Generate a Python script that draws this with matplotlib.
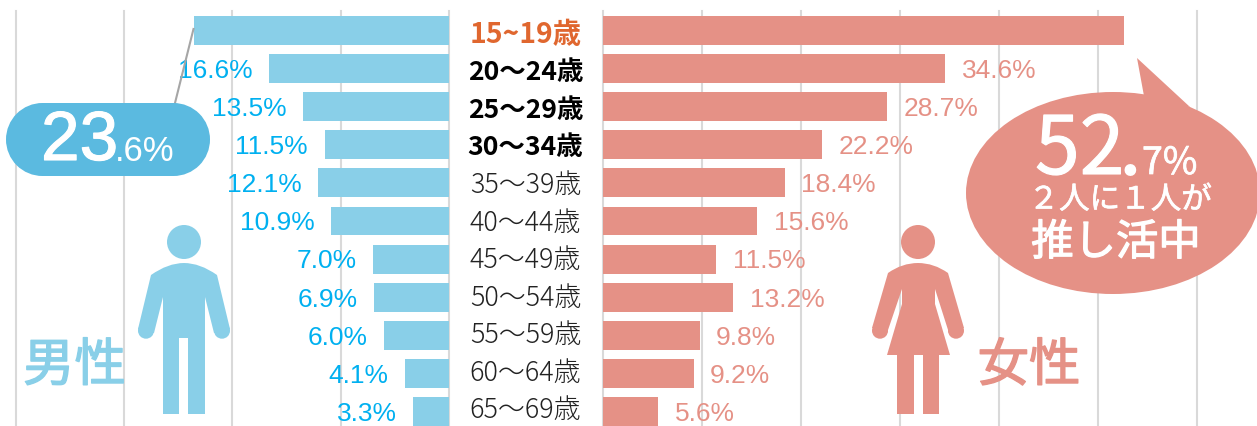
import matplotlib
matplotlib.use("Agg")
import matplotlib.pyplot as plt
import matplotlib.patheffects as pe
from matplotlib.patches import Circle, Ellipse, PathPatch, Polygon, Rectangle
from matplotlib.path import Path

plt.rcParams['font.family'] = ['Noto Sans CJK JP', 'DejaVu Sans']

ages = ["15~19歳", "20～24歳", "25～29歳", "30～34歳", "35～39歳", "40～44歳",
        "45～49歳", "50～54歳", "55～59歳", "60～64歳", "65～69歳"]
male = [23.6, 16.6, 13.5, 11.5, 12.1, 10.9, 7.0, 6.9, 6.0, 4.1, 3.3]
female = [52.7, 34.6, 28.7, 22.2, 18.4, 15.6, 11.5, 13.2, 9.8, 9.2, 5.6]
age_colors = ["#e0672f", "black", "black", "black"] + ["#222222"] * 7
age_weights = ["bold", "bold", "bold", "bold"] + ["light"] * 7
age_sizes = [20.4, 19.1, 19.1, 19.1] + [19.4] * 7

BLUE = "#89cfe8"
PINK = "#e59186"
W, H = 1257, 427

fig = plt.figure(figsize=(W / 100, H / 100), dpi=100)


def make_axes(x0, x1, xlim):
    ax = fig.add_axes([x0 / W, -1 / H, (x1 - x0) / W, 416 / H])
    ax.set_xlim(*xlim)
    ax.set_ylim(10.407, -0.512)
    ax.set_yticks([])
    ax.tick_params(length=0, labelbottom=False)
    for s in ax.spines.values():
        s.set_visible(False)
    ax.patch.set_alpha(0)
    ax.grid(axis='x', color='#d9d9d9', lw=1.5, clip_on=False)
    ax.set_axisbelow(True)
    return ax


def thicken(color, width):
    # no medium weight to be had, so a thin stroke fattens the regular glyphs
    return [pe.withStroke(linewidth=width, foreground=color)]


ax_l = make_axes(16, 449, (40, 0))
ax_l.set_xticks([40, 30, 20, 10, 0])
ax_r = make_axes(602.5, 1196.5, (0, 60))
ax_r.set_xticks([0, 10, 20, 30, 40, 50, 60])
for gl in ax_l.get_xgridlines() + ax_r.get_xgridlines():
    gl.set_clip_on(False)

ys = range(len(ages))
ax_l.barh(ys, male, height=0.76, color=BLUE)
ax_r.barh(ys, female, height=0.76, color=PINK)

# value labels, the top bars get their numbers from the callouts instead
for i in ys:
    if i == 0:
        continue
    ax_l.annotate(f"{male[i]:.1f}%", (male[i], i), xytext=(-12, -1), textcoords='offset points',
                  ha='right', va='center', fontsize=19, color="#00b0f0", family='Liberation Sans')
    ax_r.annotate(f"{female[i]:.1f}%", (female[i], i), xytext=(12, -1), textcoords='offset points',
                  ha='left', va='center', fontsize=19, color=PINK, family='Liberation Sans')

# overlay in pixel coordinates for the decoration
ov = fig.add_axes([0, 0, 1, 1])
ov.set_xlim(0, W)
ov.set_ylim(H, 0)
ov.axis('off')
ov.patch.set_alpha(0)

for i, age in enumerate(ages):
    ov.text(525.5, 35.5 + 37.5 * i, age, ha='center', va='center', fontsize=age_sizes[i],
            color=age_colors[i], fontweight=age_weights[i])

# male callout
ov.plot([193.5, 175], [30, 104], color='#a6a6a6', lw=1.5, zorder=1)
ov.add_patch(Rectangle((42, 104), 132, 73, fc="#5bbae0", ec='none', zorder=2))
ov.add_patch(Circle((42.5, 140.5), 36.5, fc="#5bbae0", ec='none', zorder=2))
ov.add_patch(Circle((173.5, 140.5), 36.5, fc="#5bbae0", ec='none', zorder=2))
ov.text(41, 161, "23", color='white', fontsize=50, ha='left', va='baseline', zorder=3,
        family='Liberation Sans', path_effects=thicken('white', 0.8))
ov.text(115, 161, ".6%", color='white', fontsize=25, ha='left', va='baseline', zorder=3, family='Liberation Sans')

# female callout
ov.add_patch(Ellipse((1113, 194), 294, 202, fc=PINK, ec='none', zorder=2))
ov.add_patch(Polygon([(1137, 59), (1144, 97), (1190, 108)], fc=PINK, ec='none', zorder=2))
ov.text(1035, 175, "52", color='white', fontsize=58, ha='left', va='baseline', zorder=3,
        path_effects=thicken('white', 0.8))
ov.text(1120, 175, ".", color='white', fontsize=46, fontweight='bold', ha='left', va='baseline', zorder=3)
ov.text(1142, 175, "7%", color='white', fontsize=27, ha='left', va='baseline', zorder=3,
        path_effects=thicken('white', 0.5))
ov.text(1120, 201, "２人に１人が", color='white', fontsize=22, ha='center', va='center', zorder=3,
        path_effects=thicken('white', 0.5))
ov.text(1116, 244, "推し活中", color='white', fontsize=30.5, ha='center', va='center', zorder=3,
        path_effects=thicken('white', 0.9))

ov.text(74.5, 367, "男性", color=BLUE, fontsize=37, ha='center', va='center', path_effects=thicken(BLUE, 1.0))
ov.text(1029, 367, "女性", color=PINK, fontsize=37, ha='center', va='center', path_effects=thicken(PINK, 1.0))

# male figure
ov.add_patch(Circle((184, 243), 17, fc=BLUE, ec='none'))
ov.add_patch(Circle((146, 331.7), 8, fc=BLUE, ec='none'))
ov.add_patch(Circle((222, 331.7), 8, fc=BLUE, ec='none'))
man = [(163, 415), (179, 415), (179, 339), (188, 339), (188, 415), (205, 415), (205, 298),
       (214, 334), (230, 330), (217, 276), (200, 264), (184, 264), (168, 264), (151, 276),
       (138, 330), (154, 334), (163, 298), (163, 415)]
man_codes = [Path.MOVETO] + [Path.LINETO] * 9 + [Path.CURVE3, Path.CURVE3, Path.CURVE3, Path.CURVE3] + [Path.LINETO] * 4
ov.add_patch(PathPatch(Path(man, man_codes), fc=BLUE, ec='none'))

# female figure
ov.add_patch(Circle((918, 243), 17, fc=PINK, ec='none'))
ov.add_patch(Circle((880, 331.7), 8, fc=PINK, ec='none'))
ov.add_patch(Circle((956, 331.7), 8, fc=PINK, ec='none'))
woman = [(897, 415), (914, 415), (914, 356), (923, 356), (923, 415), (939, 415), (939, 356), (950, 356),
         (935, 305), (935, 290), (949, 334), (964, 329), (948, 274), (934, 264), (918, 264), (902, 264),
         (888, 274), (872, 329), (887, 334), (902, 290), (902, 305), (887, 356), (897, 356), (897, 415)]
woman_codes = [Path.MOVETO] + [Path.LINETO] * 12 + [Path.CURVE3, Path.CURVE3, Path.CURVE3, Path.CURVE3] + [Path.LINETO] * 7
ov.add_patch(PathPatch(Path(woman, woman_codes), fc=PINK, ec='none'))

fig.savefig("out.png", dpi=100)
